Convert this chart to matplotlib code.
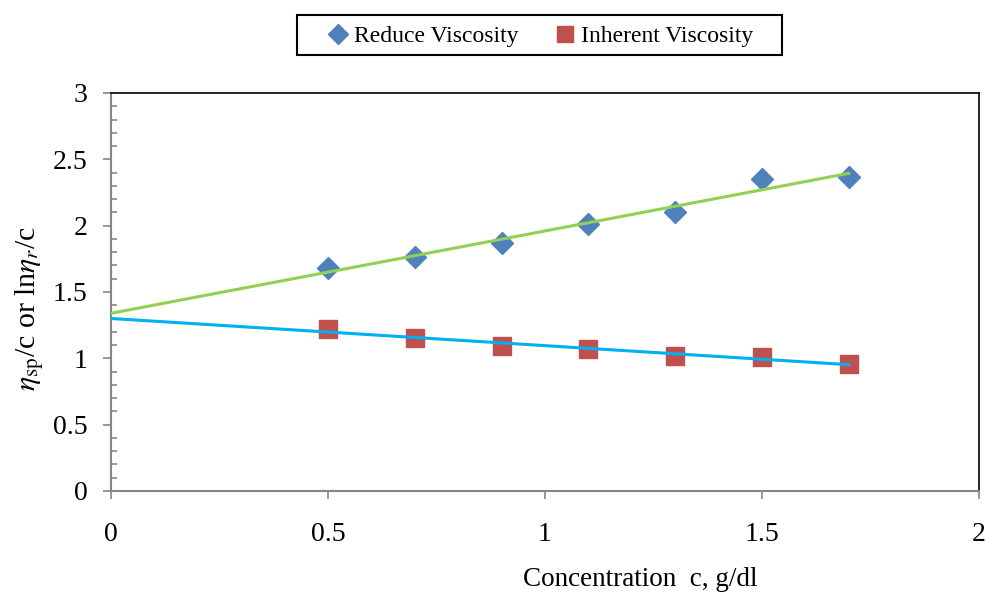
import numpy as np
import matplotlib
matplotlib.use("Agg")
import matplotlib.pyplot as plt
from matplotlib.patches import Rectangle
from matplotlib.ticker import MultipleLocator

plt.rcParams['font.family'] = ['Liberation Serif', 'DejaVu Serif']
plt.rcParams['mathtext.fontset'] = 'stix'

# concentration (g/dl) and measured viscosities
conc = [0.5, 0.7, 0.9, 1.1, 1.3, 1.5, 1.7]
reduced_visc = [1.68, 1.765, 1.87, 2.015, 2.105, 2.35, 2.37]
inherent_visc = [1.223, 1.150, 1.095, 1.068, 1.020, 1.013, 0.957]

x_ticks = [0, 0.5, 1, 1.5, 2]
y_ticks = [0, 0.5, 1, 1.5, 2, 2.5, 3]

# linear trend lines, extended back to c = 0
p_red = np.polyfit(conc, reduced_visc, 1)
p_inh = np.polyfit(conc, inherent_visc, 1)
xfit = np.array([0, max(conc)])

W, H = 990, 595
fig = plt.figure(figsize=(9.9, 5.95), dpi=100)
ax = fig.add_axes([0.1121, 0.1748, 0.8768, 0.6689])

ax.plot(xfit, np.polyval(p_red, xfit), color='#92D050', lw=2.2, zorder=3)
ax.plot(xfit, np.polyval(p_inh, xfit), color='#00B0F0', lw=2.2, zorder=3)
ax.plot(conc, reduced_visc, 'D', color='#4F81BD', ms=11, ls='none',
        label='Reduce Viscosity', zorder=2)
ax.plot(conc, inherent_visc, 's', color='#C0504D', ms=13.5, ls='none',
        label='Inherent Viscosity', zorder=2)

ax.set_xlim(0, 2)
ax.set_ylim(0, 3)
ax.set_xticks(x_ticks)
ax.set_xticklabels([f'{v:g}' for v in x_ticks])
ax.set_yticks(y_ticks)
ax.set_yticklabels([f'{v:g}' for v in y_ticks])
ax.yaxis.set_minor_locator(MultipleLocator(0.1))

for side in ['top', 'right']:
    ax.spines[side].set_color('black')
    ax.spines[side].set_linewidth(1.2)
for side in ['left', 'bottom']:
    ax.spines[side].set_color('#868686')
    ax.spines[side].set_linewidth(1.5)

ax.tick_params(axis='both', which='major', direction='out', length=6,
               width=1.2, color='#868686', labelsize=20)
ax.tick_params(axis='y', which='major', pad=11)
ax.tick_params(axis='x', which='major', pad=16)
ax.tick_params(axis='y', which='minor', direction='in', length=4,
               width=1.2, color='#868686')

fig.text(640 / W, 1 - 580 / H, 'Concentration  c, g/dl',
         ha='center', va='center', fontsize=19.5)
fig.text(30 / W, 1 - 309 / H,
         r'$\mathit{\eta}_{\mathrm{sp}}$/c or ln$\mathit{\eta}_{r}$/c',
         ha='center', va='center', rotation=90, fontsize=21.5)

# legend entries without frame, box drawn separately
leg = fig.legend(loc='center', bbox_to_anchor=(541 / W, 1 - 36 / H),
                 ncol=2, fontsize=17, frameon=False,
                 handlelength=0.8, handletextpad=0.25,
                 columnspacing=1.6, borderpad=0, borderaxespad=0,
                 markerscale=0.9)
fig.patches.append(Rectangle((297 / W, 1 - 55 / H), 485 / W, 40 / H,
                             transform=fig.transFigure, fill=False,
                             edgecolor='black', linewidth=1.5))

fig.savefig('out.png', dpi=100)
